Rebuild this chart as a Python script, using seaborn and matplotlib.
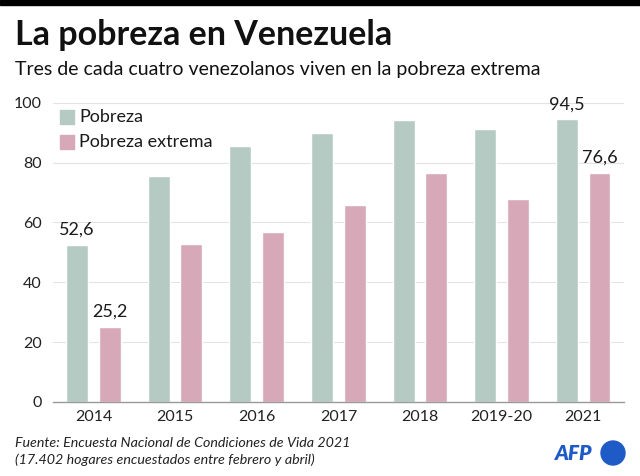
import matplotlib
matplotlib.use("Agg")
import matplotlib.pyplot as plt
import seaborn as sns
import pandas as pd
from matplotlib.patches import Rectangle, Ellipse

years = ["2014", "2015", "2016", "2017", "2018", "2019-20", "2021"]
pobreza = [52.6, 75.6, 85.4, 90.0, 94.2, 91.4, 94.5]
pobreza_extrema = [25.2, 52.8, 56.9, 66.0, 76.4, 67.7, 76.6]
series_names = ["Pobreza", "Pobreza extrema"]
yticks = [0, 20, 40, 60, 80, 100]
labelled = {("Pobreza", 0): "52,6", ("Pobreza extrema", 0): "25,2",
            ("Pobreza", 6): "94,5", ("Pobreza extrema", 6): "76,6"}

colors = ["#b6cac4", "#d6a8b8"]

df = pd.DataFrame({
    "year": years * 2,
    "value": pobreza + pobreza_extrema,
    "serie": [series_names[0]] * len(years) + [series_names[1]] * len(years),
})

sns.set_style("white")
plt.rcParams["font.family"] = ["Lato", "DejaVu Sans"]

fig = plt.figure(figsize=(6.4, 4.76), dpi=100)
ax = fig.add_axes([0.0823, 0.1555, 0.8927, 0.6285])

sns.barplot(data=df, x="year", y="value", hue="serie", palette=colors,
            gap=0.33, width=0.8, ax=ax, legend=False, saturation=1)

ax.set_xlim(-0.5, 6.5)
ax.set_ylim(0, 100)
ax.set_yticks(yticks)
ax.set_yticklabels([str(t) for t in yticks], fontsize=11.5, color="#222222")
ax.tick_params(axis="y", length=0, pad=8)
ax.tick_params(axis="x", length=0, pad=6, labelsize=11.5, labelcolor="#222222")
ax.set_xlabel("")
ax.set_ylabel("")
for t in yticks[1:]:
    ax.axhline(t, color="#e3e3e3", lw=0.8, zorder=0)
ax.set_axisbelow(True)
for s in ["top", "right", "left"]:
    ax.spines[s].set_visible(False)
ax.spines["bottom"].set_color("#999999")
ax.spines["bottom"].set_linewidth(1.0)

# value labels
for i, cont in enumerate(ax.containers):
    name = series_names[i]
    for j, bar in enumerate(cont):
        if (name, j) in labelled:
            ax.text(bar.get_x() + bar.get_width() / 2, bar.get_height() + 2.3,
                    labelled[(name, j)], ha="center", va="bottom",
                    fontsize=13, color="#1a1a1a", clip_on=False)

# legend
for k, (name, c) in enumerate(zip(series_names, colors)):
    y = 116.5 + k * 25.5
    fig.patches.append(Rectangle((60 / 640, 1 - (y + 7) / 476), 14 / 640, 14 / 476,
                                 transform=fig.transFigure, color=c))
    fig.text(79 / 640, 1 - y / 476, name, fontsize=13, va="center", ha="left",
             color="#1a1a1a")

# top black band
fig.patches.append(Rectangle((0, 1 - 5 / 476), 1, 5 / 476, transform=fig.transFigure,
                             color="black"))

fig.text(15 / 640, 1 - 35 / 476, "La pobreza en Venezuela", fontsize=24.5,
         fontweight="bold", va="center", ha="left", color="#111111")
fig.text(15 / 640, 1 - 70 / 476, "Tres de cada cuatro venezolanos viven en la pobreza extrema",
         fontsize=14, va="center", ha="left", color="#111111")

fig.text(15 / 640, 1 - 443 / 476, "Fuente: Encuesta Nacional de Condiciones de Vida 2021",
         fontsize=10.3, style="italic", va="center", ha="left", color="#222222")
fig.text(15 / 640, 1 - 460 / 476, "(17.402 hogares encuestados entre febrero y abril)",
         fontsize=10.3, style="italic", va="center", ha="left", color="#222222")

# AFP logo
fig.text(555 / 640, 1 - 453 / 476, "AFP", fontsize=15, fontweight="heavy", style="italic",
         va="center", ha="left", color="#1f5bc6")
fig.patches.append(Ellipse((613 / 640, 1 - 453 / 476), 24 / 640, 24 / 476,
                           transform=fig.transFigure, color="#1f5bc6"))

fig.savefig("out.png", dpi=100)
